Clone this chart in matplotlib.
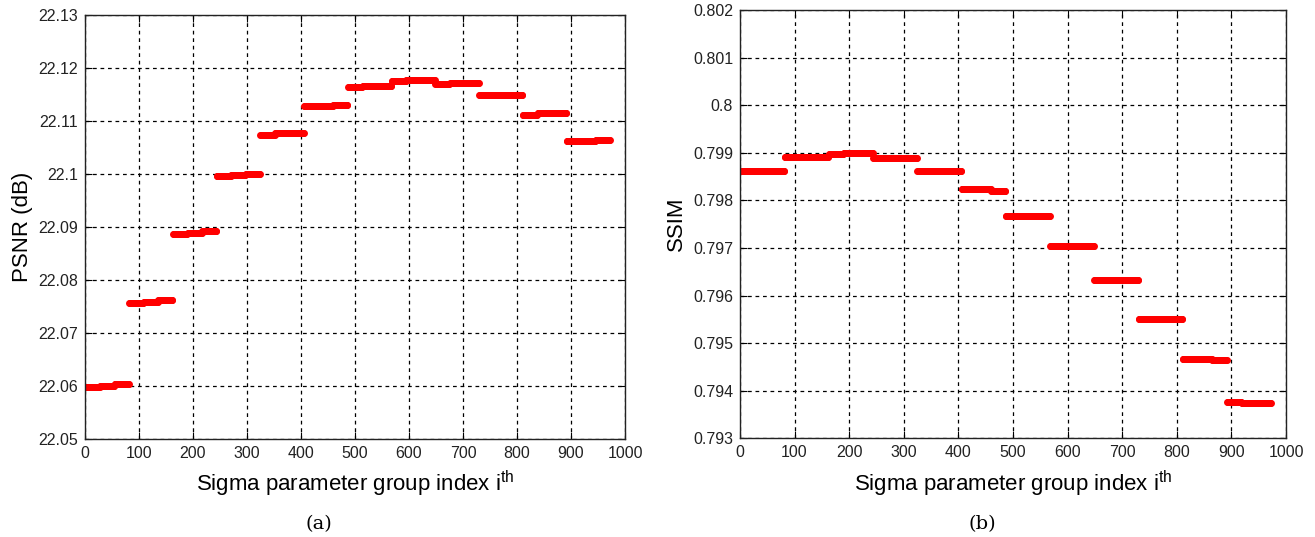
import numpy as np
import matplotlib
matplotlib.use("Agg")
import matplotlib.pyplot as plt
from matplotlib.ticker import FormatStrFormatter, MultipleLocator

plt.rcParams['font.family'] = ['Liberation Sans', 'DejaVu Sans']
plt.rcParams['mathtext.fontset'] = 'custom'
plt.rcParams['mathtext.rm'] = 'Liberation Sans'

# 12 sigma groups, 81 parameter sets each, split into 3 sub-blocks of 27
group_size = 81
sub_size = 27

psnr_levels = [
    [22.0598, 22.0600, 22.0603],
    [22.0757, 22.0759, 22.0762],
    [22.0886, 22.0889, 22.0892],
    [22.0996, 22.0999, 22.1000],
    [22.1074, 22.1077, 22.1077],
    [22.1128, 22.1128, 22.1131],
    [22.1164, 22.1166, 22.1166],
    [22.1175, 22.1178, 22.1178],
    [22.1169, 22.1172, 22.1172],
    [22.1150, 22.1150, 22.1150],
    [22.1112, 22.1115, 22.1115],
    [22.1062, 22.1062, 22.1065],
]

ssim_levels = [
    [0.79862, 0.79862, 0.79862],
    [0.79892, 0.79892, 0.79892],
    [0.79897, 0.79899, 0.79899],
    [0.79889, 0.79889, 0.79889],
    [0.79862, 0.79862, 0.79862],
    [0.79823, 0.79823, 0.79820],
    [0.79767, 0.79767, 0.79767],
    [0.79704, 0.79704, 0.79704],
    [0.79632, 0.79632, 0.79632],
    [0.79551, 0.79551, 0.79551],
    [0.79467, 0.79467, 0.79464],
    [0.79377, 0.79374, 0.79374],
]

psnr = np.repeat(np.ravel(psnr_levels), sub_size)
ssim = np.repeat(np.ravel(ssim_levels), sub_size)
idx = np.arange(1, len(psnr) + 1)


def style_axes(ax, ylim, ystep, fmt):
    ax.set_xlim(0, 1000)
    ax.set_ylim(*ylim)
    ax.xaxis.set_major_locator(MultipleLocator(100))
    ax.yaxis.set_major_locator(MultipleLocator(ystep))
    ax.yaxis.set_major_formatter(FormatStrFormatter(fmt))
    ax.grid(True, color='k', linestyle=(0, (3, 3)), linewidth=0.9)
    ax.tick_params(direction='in', length=5, top=True, right=True,
                   labelsize=11.5, labelcolor='#222222', pad=5)
    for s in ax.spines.values():
        s.set_linewidth(1.0)
        s.set_color('#222222')
    ax.set_xlabel('Sigma parameter group index i$^{\\mathrm{th}}$', fontsize=16, labelpad=6)


fig = plt.figure(figsize=(13.15, 5.37), dpi=100)

ax1 = fig.add_axes([0.0646, 0.1825, 0.4107, 0.7895])
ax1.plot(idx, psnr, linestyle='none', marker='o', markersize=5,
         color='red', markeredgewidth=0)
style_axes(ax1, (22.05, 22.13), 0.01, '%g')
ax1.set_ylabel('PSNR (dB)', fontsize=16)

ax2 = fig.add_axes([0.5627, 0.1838, 0.4153, 0.7976])
ax2.plot(idx, ssim, linestyle='none', marker='o', markersize=5,
         color='red', markeredgewidth=0)
style_axes(ax2, (0.793, 0.802), 0.001, '%g')
ax2.set_ylabel('SSIM', fontsize=16)

fig.text(0.2426, 0.015, '(a)', fontsize=14, family='DejaVu Serif', ha='center')
fig.text(0.747, 0.015, '(b)', fontsize=14, family='DejaVu Serif', ha='center')

fig.savefig('out.png', dpi=100)
